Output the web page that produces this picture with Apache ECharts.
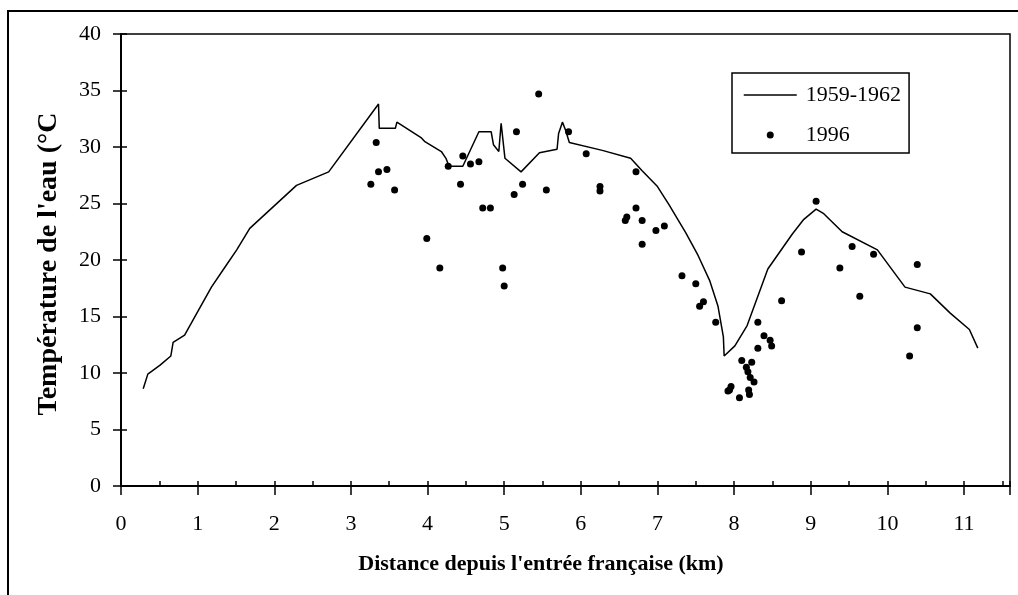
<!DOCTYPE html>
<html>
<head>
<meta charset="utf-8">
<script src="https://cdn.jsdelivr.net/npm/echarts@6/dist/echarts.min.js"></script>
<style>
  html, body { margin: 0; padding: 0; background: #fff; }
  #chart { width: 1018px; height: 595px; }
</style>
</head>
<body>
<div id="chart"></div>
<script>
// 1959-1962 profile (km, °C)
const oldDist = [0.29, 0.35, 0.51, 0.65, 0.68, 0.83, 0.99, 1.18, 1.34, 1.51, 1.68, 2.29, 2.71, 3.36, 3.37, 3.58, 3.60, 3.92, 3.96, 4.18,
  4.24, 4.28, 4.46, 4.67, 4.83, 4.86, 4.93, 4.96, 5.01, 5.22, 5.46, 5.69, 5.71, 5.76, 5.80, 5.85, 6.28, 6.65, 6.80, 7.00,
  7.15, 7.37, 7.53, 7.68, 7.79, 7.86, 7.87, 8.01, 8.17, 8.44, 8.76, 8.91, 9.07, 9.17, 9.41, 9.87, 10.23, 10.56, 10.82, 11.07, 11.18];
const oldTemp = [8.6, 9.9, 10.7, 11.5, 12.7, 13.35, 15.3, 17.6, 19.2, 20.9, 22.8, 26.6, 27.8, 33.8, 31.65, 31.65, 32.2, 30.8, 30.5, 29.6,
  29.0, 28.3, 28.3, 31.35, 31.35, 30.2, 29.6, 32.1, 29.0, 27.8, 29.5, 29.8, 31.2, 32.2, 31.5, 30.4, 29.7, 29.0, 27.9, 26.5,
  24.9, 22.4, 20.4, 18.2, 15.9, 13.2, 11.5, 12.4, 14.2, 19.2, 22.3, 23.6, 24.5, 24.1, 22.5, 20.9, 17.6, 17.0, 15.3, 13.85, 12.2];

// 1996 measurements
const newDist = [3.26, 3.33, 3.36, 3.47, 3.57, 3.99, 4.16, 4.27, 4.43, 4.46, 4.56, 4.67, 4.72, 4.82, 4.98, 5.00, 5.13, 5.16, 5.24, 5.45,
  5.55, 5.84, 6.07, 6.25, 6.25, 6.58, 6.60, 6.72, 6.72, 6.80, 6.80, 6.98, 7.09, 7.32, 7.50, 7.55, 7.60, 7.76, 7.92, 7.94,
  7.96, 8.07, 8.10, 8.16, 8.18, 8.19, 8.20, 8.21, 8.23, 8.26, 8.31, 8.31, 8.39, 8.47, 8.49, 8.62, 8.88, 9.07, 9.38, 9.54,
  9.64, 9.82, 10.29, 10.39, 10.39];
const newTemp = [26.7, 30.4, 27.8, 28.0, 26.2, 21.9, 19.3, 28.3, 26.7, 29.2, 28.5, 28.7, 24.6, 24.6, 19.3, 17.7, 25.8, 31.35, 26.7, 34.7,
  26.2, 31.35, 29.4, 26.5, 26.1, 23.5, 23.8, 27.8, 24.6, 23.5, 21.4, 22.6, 23.0, 18.6, 17.9, 15.9, 16.3, 14.5, 8.4, 8.5,
  8.8, 7.8, 11.1, 10.5, 10.1, 8.5, 8.1, 9.6, 10.95, 9.2, 14.5, 12.2, 13.3, 12.9, 12.4, 16.4, 20.7, 25.2, 19.3, 21.2,
  16.8, 20.5, 11.5, 14.0, 19.6];

const seriesNames = ['1959-1962', '1996'];
const xTitle = "Distance depuis l'entrée française (km)";
const yTitle = "Température de l'eau (°C";

const serif = "'Liberation Serif', 'Times New Roman', serif";

const chart = echarts.init(document.getElementById('chart'));

const axisLine = { show: true, lineStyle: { color: '#000', width: 2 } };

const option = {
  backgroundColor: '#fff',
  animation: false,
  textStyle: { fontFamily: serif, color: '#000' },
  graphic: [{
    type: 'rect',
    z: -1,
    shape: { x: 8, y: 11, width: 1100, height: 700 },
    style: { fill: 'none', stroke: '#000', lineWidth: 2 }
  }],
  grid: {
    left: 121, top: 34, right: 8, bottom: 109,
    show: true, borderColor: '#000', borderWidth: 1.5, backgroundColor: 'transparent'
  },
  legend: {
    orient: 'vertical',
    left: 732, top: 73,
    padding: [10, 8, 6, 11],
    itemWidth: 53, itemHeight: 7, itemGap: 16,
    borderColor: '#000', borderWidth: 1.5,
    backgroundColor: '#fff',
    textStyle: { fontFamily: serif, fontSize: 22, color: '#000', lineHeight: 24, padding: [0, 0, 0, 4] },
    data: [
      { name: seriesNames[0], itemStyle: { opacity: 0 }, lineStyle: { color: '#000', width: 1.5 } },
      { name: seriesNames[1], icon: 'circle' }
    ]
  },
  xAxis: [{
    type: 'value', min: 0, max: 11.6, interval: 1, position: 'bottom',
    splitLine: { show: false },
    axisLine: axisLine,
    axisTick: { show: true, inside: false, length: 9, lineStyle: { color: '#000', width: 1.5 } },
    axisLabel: {
      fontFamily: serif, fontSize: 22, color: '#000', margin: 27,
      formatter: v => Number.isInteger(v) ? String(v) : ''
    },
    name: xTitle, nameLocation: 'middle', nameGap: 67,
    nameTextStyle: { fontFamily: serif, fontSize: 22, fontWeight: 'bold', color: '#000', padding: [0, 49, 0, 0] }
  }, {
    type: 'value', min: 0, max: 11.6, interval: 0.5, position: 'bottom', offset: 0,
    splitLine: { show: false },
    axisLine: { show: false },
    axisTick: { show: true, inside: true, length: 5, lineStyle: { color: '#000', width: 1.5 } },
    axisLabel: { show: false }
  }],
  yAxis: [{
    type: 'value', min: 0, max: 40, interval: 5, position: 'left',
    splitLine: { show: false },
    axisLine: axisLine,
    axisTick: { show: true, inside: false, length: 8, lineStyle: { color: '#000', width: 1.5 } },
    axisLabel: { fontFamily: serif, fontSize: 22, color: '#000', margin: 20 },
    name: yTitle, nameLocation: 'middle', nameGap: 58,
    nameTextStyle: { fontFamily: serif, fontSize: 28, fontWeight: 'bold', color: '#000', padding: [0, 8, 0, 0] }
  }, {
    type: 'value', min: 0, max: 40, interval: 5, position: 'left', offset: 0,
    splitLine: { show: false },
    axisLine: { show: false },
    axisTick: { show: true, inside: true, length: 6, lineStyle: { color: '#000', width: 1.5 } },
    axisLabel: { show: false }
  }],
  series: [{
    name: seriesNames[0],
    type: 'line',
    xAxisIndex: 0, yAxisIndex: 0,
    data: oldDist.map((d, i) => [d, oldTemp[i]]),
    showSymbol: false,
    symbol: 'none',
    lineStyle: { color: '#000', width: 1.5 },
    itemStyle: { color: '#000' }
  }, {
    name: seriesNames[1],
    type: 'scatter',
    xAxisIndex: 0, yAxisIndex: 0,
    data: newDist.map((d, i) => [d, newTemp[i]]),
    symbol: 'circle',
    symbolSize: 7,
    itemStyle: { color: '#000', opacity: 1 }
  }]
};

chart.setOption(option);
</script>
</body>
</html>
